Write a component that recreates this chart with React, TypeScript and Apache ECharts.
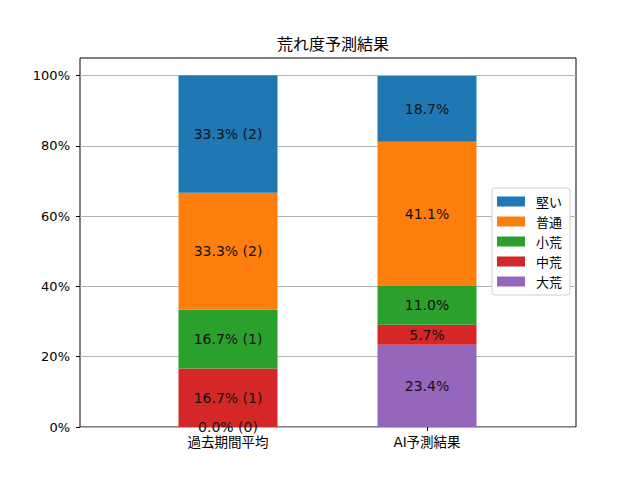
import React, { useEffect, useRef } from "react";
import * as echarts from "echarts";

const categories = ["過去期間平均", "AI予測結果"];
// stacking order bottom -> top
const levels = ["大荒", "中荒", "小荒", "普通", "堅い"];
const legendOrder = ["堅い", "普通", "小荒", "中荒", "大荒"];
const colors: Record<string, string> = {
  "大荒": "#9467bd",
  "中荒": "#d62728",
  "小荒": "#2ca02c",
  "普通": "#ff7f0e",
  "堅い": "#1f77b4",
};
const pastCounts = [0, 1, 1, 2, 2];
const aiPercents = [23.4, 5.7, 11.0, 41.1, 18.7];
const yTicks = [0, 20, 40, 60, 80, 100];

const FONT = "'DejaVu Sans', 'Noto Sans CJK JP', sans-serif";

export default function App() {
  const ref = useRef<HTMLDivElement>(null);
  useEffect(() => {
    if (!ref.current) return;
    const chart = echarts.init(ref.current, undefined, { renderer: "svg" });
    const pastTotal = pastCounts.reduce((a, b) => a + b, 0);
    const series = levels.map((name, i) => {
      const pastPct = (pastCounts[i] / pastTotal) * 100;
      return {
        name,
        type: "bar",
        stack: "total",
        xAxisIndex: 1,
        yAxisIndex: 1,
        barWidth: 99,
        itemStyle: { color: colors[name] },
        label: {
          show: true,
          position: "inside",
          color: "#111",
          fontSize: 14,
          fontFamily: FONT,
          formatter: (p: any) =>
            p.dataIndex === 0
              ? `${pastPct.toFixed(1)}% (${pastCounts[i]})`
              : `${aiPercents[i].toFixed(1)}%`,
        },
        data: [pastPct, aiPercents[i]],
      };
    });
    chart.setOption({
      animation: false,
      textStyle: { fontFamily: FONT },
      title: {
        text: "荒れ度予測結果",
        left: 328,
        top: 30,
        textAlign: "center",
        textStyle: { fontSize: 16, fontWeight: "normal", color: "#000", fontFamily: "'Noto Sans CJK JP', sans-serif" },
      },
      legend: {
        data: legendOrder,
        orient: "vertical",
        left: 492,
        top: 188,
        itemWidth: 28,
        itemHeight: 10,
        itemGap: 7,
        padding: [7, 8, 7, 5],
        borderColor: "#d0d0d0",
        borderWidth: 1,
        borderRadius: 3,
        backgroundColor: "#fff",
        icon: "rect",
        textStyle: { fontSize: 13, color: "#000", fontFamily: "'Noto Sans CJK JP', sans-serif", padding: [0, 0, 0, 6] },
      },
      grid: [
        { left: 80, right: 64, top: 58, bottom: 53, show: true, borderColor: "#000", borderWidth: 1, backgroundColor: "transparent" },
        { left: 128.5, right: 113.5, top: 58, bottom: 53 },
      ],
      xAxis: [
        { type: "value", gridIndex: 0, min: 0, max: 1, show: false },
        {
          type: "category",
          gridIndex: 1,
          data: categories,
          axisLine: { show: false },
          axisTick: { show: true, alignWithLabel: true, length: 4, lineStyle: { color: "#000" } },
          axisLabel: { color: "#000", fontSize: 13.5, margin: 8, fontFamily: FONT },
        },
      ],
      yAxis: [
        {
          type: "value",
          gridIndex: 0,
          min: 0,
          max: 105,
          interval: 20,
          axisLine: { show: false },
          axisTick: { show: true, length: 4, lineStyle: { color: "#000" }, customValues: yTicks },
          axisLabel: {
            color: "#000",
            fontSize: 13,
            margin: 10,
            fontFamily: FONT,
            customValues: yTicks,
            formatter: (v: number) => `${v}%`,
          },
          splitLine: { show: true, lineStyle: { color: "#b0b0b0", width: 1 } },
        },
        { type: "value", gridIndex: 1, min: 0, max: 105, show: false },
      ],
      series,
    });
    return () => chart.dispose();
  }, []);
  return <div ref={ref} style={{ width: 640, height: 480, margin: -8 }} />;
}
